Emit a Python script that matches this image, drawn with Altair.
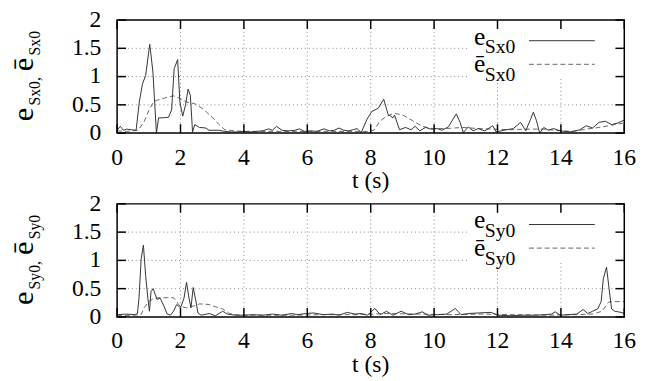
import altair as alt
import pandas as pd

# ---------------- data ----------------
t_sx = [0, 0.1, 0.2, 0.3, 0.45, 0.6, 0.7, 0.8, 0.9, 1.03,
        1.13, 1.24, 1.31, 1.45, 1.62, 1.72, 1.8, 1.91, 1.98, 2.07,
        2.16, 2.24, 2.31, 2.38, 2.45, 2.6, 2.8, 2.9, 3.2, 3.4,
        3.6, 3.8, 4.0, 4.2, 4.4, 4.6, 4.78, 4.9, 5.03, 5.2,
        5.4, 5.6, 5.76, 5.9, 6.1, 6.3, 6.53, 6.7, 6.85, 7.0,
        7.15, 7.3, 7.45, 7.57, 7.7, 7.88, 8.03, 8.24, 8.41, 8.55,
        8.7, 8.75, 8.91, 9.1, 9.27, 9.4, 9.55, 9.73, 9.9, 10.1,
        10.25, 10.45, 10.6, 10.7, 10.82, 10.92, 11.08, 11.23, 11.39, 11.6,
        11.85, 11.96, 12.2, 12.5, 12.73, 12.89, 13.04, 13.13, 13.23, 13.33,
        13.46, 13.6, 13.77, 13.98, 14.29, 14.6, 14.8, 15.0, 15.2, 15.4,
        15.6, 15.8, 16.0]
e_sx = [0.05, 0.12, 0.05, 0.07, 0.06, 0.05, 0.55, 0.87, 1.02, 1.57,
        1.08, 0.0, 0.27, 0.27, 0.28, 0.41, 1.14, 1.3, 0.55, 0.3,
        0.5, 0.78, 0.67, 0.02, 0.15, 0.1, 0.09, 0.05, 0.05, 0.03,
        0.02, 0.02, 0.03, 0.02, 0.03, 0.04, 0.075, 0.05, 0.12, 0.05,
        0.04, 0.05, 0.075, 0.03, 0.04, 0.03, 0.075, 0.04, 0.05, 0.09,
        0.05, 0.04, 0.06, 0.08, 0.01, 0.24, 0.38, 0.44, 0.6, 0.33,
        0.27, 0.32, 0.06, 0.1, 0.06, 0.12, 0.04, 0.1, 0.07, 0.08,
        0.05, 0.11, 0.25, 0.34, 0.19, 0.01, 0.11, 0.04, 0.08, 0.04,
        0.13, 0.02, 0.05, 0.08, 0.19, 0.04, 0.24, 0.37, 0.22, 0.0,
        0.1, 0.05, 0.08, 0.04, 0.02, 0.06, 0.13, 0.09, 0.19, 0.21,
        0.15, 0.18, 0.23]

t_sx_bar = [0, 0.3, 0.66, 0.85, 1.0, 1.16, 1.3, 1.5, 1.78, 2.0,
            2.19, 2.45, 2.65, 2.81, 3.0, 3.22, 3.4, 3.7, 4.0, 5.0,
            6.0, 7.0, 7.9, 8.1, 8.29, 8.5, 8.75, 9.01, 9.32, 9.63,
            9.94, 10.35, 10.9, 11.4, 11.9, 12.4, 12.9, 13.46, 14.0, 14.4,
            14.8, 15.2, 15.6, 16.0]
e_sx_bar = [0.04, 0.03, 0.05, 0.2, 0.4, 0.56, 0.59, 0.62, 0.66, 0.61,
            0.55, 0.52, 0.45, 0.38, 0.28, 0.15, 0.06, 0.04, 0.03, 0.03,
            0.03, 0.03, 0.03, 0.05, 0.21, 0.3, 0.35, 0.32, 0.22, 0.12,
            0.08, 0.08, 0.1, 0.08, 0.07, 0.06, 0.07, 0.07, 0.04, 0.03,
            0.07, 0.1, 0.14, 0.18]

t_sy = [0, 0.3, 0.55, 0.64, 0.69, 0.76, 0.83, 0.9, 0.97, 1.02,
        1.07, 1.14, 1.2, 1.26, 1.36, 1.47, 1.58, 1.68, 1.78, 1.88,
        2.0, 2.11, 2.19, 2.27, 2.33, 2.4, 2.48, 2.55, 2.65, 2.91,
        3.1, 3.33, 3.48, 3.74, 4.0, 4.3, 4.6, 4.9, 5.2, 5.5,
        5.7, 5.95, 6.2, 6.5, 6.8, 7.0, 7.26, 7.5, 7.7, 7.9,
        8.13, 8.3, 8.5, 8.7, 8.96, 9.2, 9.4, 9.63, 9.8, 10.1,
        10.4, 10.67, 10.85, 11.1, 11.4, 11.8, 12.0, 12.4, 12.8, 13.2,
        13.5, 13.7, 13.82, 13.98, 14.2, 14.5, 14.7, 14.85, 15.0, 15.16,
        15.27, 15.34, 15.44, 15.52, 15.6, 15.7, 15.9, 16.0]
e_sy = [0.04, 0.05, 0.04, 0.06, 0.33, 1.03, 1.27, 0.73, 0.33, 0.1,
        0.45, 0.5, 0.4, 0.31, 0.33, 0.2, 0.05, 0.03, 0.1, 0.22,
        0.16, 0.33, 0.61, 0.33, 0.16, 0.52, 0.3, 0.07, 0.03, 0.06,
        0.02, 0.1, 0.05, 0.03, 0.03, 0.04, 0.03, 0.05, 0.03, 0.06,
        0.04, 0.06, 0.07, 0.04, 0.05, 0.03, 0.08, 0.05, 0.06, 0.03,
        0.15, 0.04, 0.1, 0.03, 0.1, 0.04, 0.05, 0.09, 0.03, 0.04,
        0.05, 0.15, 0.04, 0.06, 0.07, 0.08, 0.03, 0.02, 0.03, 0.03,
        0.04, 0.05, 0.09, 0.03, 0.04, 0.05, 0.13, 0.06, 0.1, 0.14,
        0.27, 0.68, 0.88, 0.5, 0.14, 0.1, 0.08, 0.06]

t_sy_bar = [0, 0.5, 0.76, 0.86, 1.0, 1.16, 1.36, 1.6, 1.78, 1.88,
            1.98, 2.19, 2.4, 2.6, 2.91, 3.1, 3.33, 3.54, 3.85, 4.5,
            5.5, 6.5, 7.5, 8.5, 9.5, 10.5, 11.5, 12.5, 13.5, 14.5,
            15.0, 15.3, 15.5, 15.6, 16.0]
e_sy_bar = [0.02, 0.03, 0.04, 0.17, 0.27, 0.33, 0.34, 0.34, 0.34, 0.27,
            0.19, 0.16, 0.19, 0.23, 0.22, 0.18, 0.14, 0.06, 0.03, 0.03,
            0.03, 0.04, 0.04, 0.06, 0.05, 0.04, 0.05, 0.04, 0.03, 0.04,
            0.05, 0.1, 0.26, 0.27, 0.27]

x_ticks = [0, 2, 4, 6, 8, 10, 12, 14, 16]
x_labels = ["0", "2", "4", "6", "8", "10", "12", "14", "16"]
y_ticks = [0, 0.5, 1, 1.5, 2]
y_labels = ["0", "0.5", "1", "1.5", "2"]
x_grid = [2, 4, 6, 8, 10, 12, 14]
y_grid = [0.5, 1, 1.5]
x_title = "t (s)"

assert len(t_sx) == len(e_sx) and len(t_sx_bar) == len(e_sx_bar)
assert len(t_sy) == len(e_sy) and len(t_sy_bar) == len(e_sy_bar)

# ---------------- styling ----------------
W, H = 516, 115
FONT = "Liberation Serif"
XS = alt.Scale(domain=[0, 16], nice=False, zero=False)
YS = alt.Scale(domain=[0, 2], nice=False, zero=False)
ONE = pd.DataFrame({"k": [0]})


def txt(s, x, y, size, angle=0, align="left"):
    return alt.Chart(ONE).mark_text(
        text=s, font=FONT, fontSize=size, align=align, baseline="alphabetic",
        angle=angle, color="black"
    ).encode(x=alt.value(x), y=alt.value(y))


def panel(t1, v1, t2, v2, sub):
    d1 = pd.DataFrame({"t": t1, "v": v1})
    d2 = pd.DataFrame({"t": t2, "v": v2})

    gx = alt.Chart(pd.DataFrame({"t": x_grid})).mark_rule(
        color="#888888", strokeWidth=1, strokeDash=[1, 3]
    ).encode(x=alt.X("t:Q", scale=XS, axis=None))
    gy = alt.Chart(pd.DataFrame({"v": y_grid})).mark_rule(
        color="#888888", strokeWidth=1, strokeDash=[1, 3]
    ).encode(y=alt.Y("v:Q", scale=YS, axis=None))

    box = alt.Chart(ONE).mark_rect(fill="white").encode(
        x=alt.value(357), x2=alt.value(W - 1), y=alt.value(1), y2=alt.value(60)
    )

    ldash = alt.Chart(d2).mark_line(
        color="#666666", strokeWidth=1, strokeDash=[5, 3]
    ).encode(x=alt.X("t:Q", scale=XS, axis=None), y=alt.Y("v:Q", scale=YS, axis=None))
    lsolid = alt.Chart(d1).mark_line(color="#333333", strokeWidth=1).encode(
        x=alt.X("t:Q", scale=XS, axis=None), y=alt.Y("v:Q", scale=YS, axis=None))

    tx = pd.DataFrame({"t": x_ticks, "lab": x_labels})
    ty = pd.DataFrame({"v": y_ticks, "lab": y_labels})
    tick_style = dict(color="black", strokeWidth=1.5)
    tb = alt.Chart(tx).mark_rule(**tick_style).encode(
        x=alt.X("t:Q", scale=XS, axis=None), y=alt.value(H), y2=alt.value(H - 9))
    tt = alt.Chart(tx).mark_rule(**tick_style).encode(
        x=alt.X("t:Q", scale=XS, axis=None), y=alt.value(0), y2=alt.value(9))
    tl = alt.Chart(ty).mark_rule(**tick_style).encode(
        y=alt.Y("v:Q", scale=YS, axis=None), x=alt.value(0), x2=alt.value(9))
    tr = alt.Chart(ty).mark_rule(**tick_style).encode(
        y=alt.Y("v:Q", scale=YS, axis=None), x=alt.value(W), x2=alt.value(W - 9))

    xl = alt.Chart(tx).mark_text(
        font=FONT, fontSize=24, align="center", baseline="alphabetic", color="black"
    ).encode(x=alt.X("t:Q", scale=XS, axis=None), y=alt.value(H + 32), text="lab:N")
    yl = alt.Chart(ty).mark_text(
        font=FONT, fontSize=24, align="right", baseline="middle", color="black"
    ).encode(y=alt.Y("v:Q", scale=YS, axis=None), x=alt.value(-16), text="lab:N")
    xt = txt(x_title, W / 2, H + 56, 24, align="center")

    frame = alt.Chart(ONE).mark_rect(
        fillOpacity=0, stroke="black", strokeWidth=1.5
    ).encode(x=alt.value(0), x2=alt.value(W), y=alt.value(0), y2=alt.value(H))

    # legend (gnuplot style, opaque key)
    leg = [
        txt("e", 363, 25, 26), txt(sub, 374, 34, 20),
        txt("\u0113", 363, 53, 26), txt(sub, 374, 62, 20),
        alt.Chart(ONE).mark_rule(color="#333333", strokeWidth=1).encode(
            x=alt.value(419), x2=alt.value(486), y=alt.value(21)),
        alt.Chart(ONE).mark_rule(color="#666666", strokeWidth=1, strokeDash=[5, 3]).encode(
            x=alt.value(419), x2=alt.value(486), y=alt.value(45)),
    ]

    # rotated y-axis title with subscripts (reads bottom to top)
    ytitle = [
        txt("e", -86, 103, 31, 270), txt(sub + ",", -78, 87, 16, 270),
        txt("\u0113", -86, 52, 31, 270), txt(sub, -78, 36, 16, 270),
    ]

    return alt.layer(gx, gy, box, ldash, lsolid, tb, tt, tl, tr, frame,
                     xl, yl, xt, *leg, *ytitle).properties(width=W, height=H)


top = panel(t_sx, e_sx, t_sx_bar, e_sx_bar, "Sx0")
bottom = panel(t_sy, e_sy, t_sy_bar, e_sy_bar, "Sy0")

chart = alt.vconcat(top, bottom, spacing=72, bounds="flush").properties(
    padding={"left": 0, "top": -3, "right": 5, "bottom": 5},
    background="white",
).configure_view(strokeWidth=0)

chart.save("out.html", embed_options={"renderer": "svg", "actions": False})
